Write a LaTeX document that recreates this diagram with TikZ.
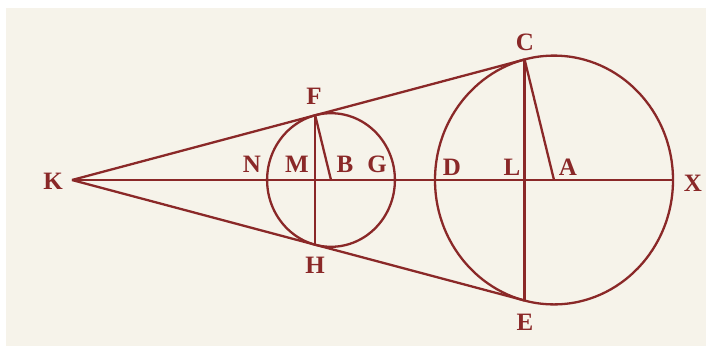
\documentclass[tikz,border=0pt]{standalone}
\usepackage{fontspec}
\setmainfont{Liberation Serif}
\definecolor{cream}{HTML}{F6F3EA}
\definecolor{wine}{HTML}{8A2828}
\tikzset{
  geo/.style={draw=wine, line width=2.3pt},
  lbl/.style={text=wine, font=\fontsize{25}{29}\selectfont\bfseries, inner sep=0pt}
}
\begin{document}
\begin{tikzpicture}[x=1pt, y=-1pt]
\fill[white] (0,0) rectangle (706,346);
\fill[cream] (6,8) rectangle (706,346);
\useasboundingbox (0,0) rectangle (706,346);
% points
\coordinate (K) at (72,180);
\coordinate (B) at (331,180);
\coordinate (A) at (554,180);
\coordinate (X) at (673,180);
\coordinate (F) at (315.2,115.3);
\coordinate (H) at (315.2,244.7);
\coordinate (C) at (524.6,59.5);
\coordinate (E) at (524.6,300.5);
% circles
\draw[geo] (B) ellipse [x radius=63.9pt, y radius=66.8pt];
\draw[geo] (A) ellipse [x radius=119pt, y radius=124.4pt];
% lines
\draw[geo] (K) -- (X);
\draw[geo] (K) -- (C);
\draw[geo] (K) -- (E);
\draw[geo] (C) -- (E);
\draw[geo] (C) -- (A);
\draw[geo] (F) -- (H);
\draw[geo] (F) -- (B);
% labels
\node[lbl] (lK) at (53,181) {K};
\node[lbl] (lC) at (525,42) {C};
\node[lbl] (lF) at (314,96) {F};
\node[lbl] (lN) at (252,164) {N};
\node[lbl] (lM) at (297,164) {M};
\node[lbl] (lB) at (345,164) {B};
\node[lbl] (lG) at (377,164) {G};
\node[lbl] (lH) at (315,265) {H};
\node[lbl] (lD) at (452,167) {D};
\node[lbl] (lL) at (512,167) {L};
\node[lbl] (lA) at (568,167) {A};
\node[lbl] (lX) at (693,183) {X};
\node[lbl] (lE) at (525,322) {E};
\end{tikzpicture}
\end{document}
